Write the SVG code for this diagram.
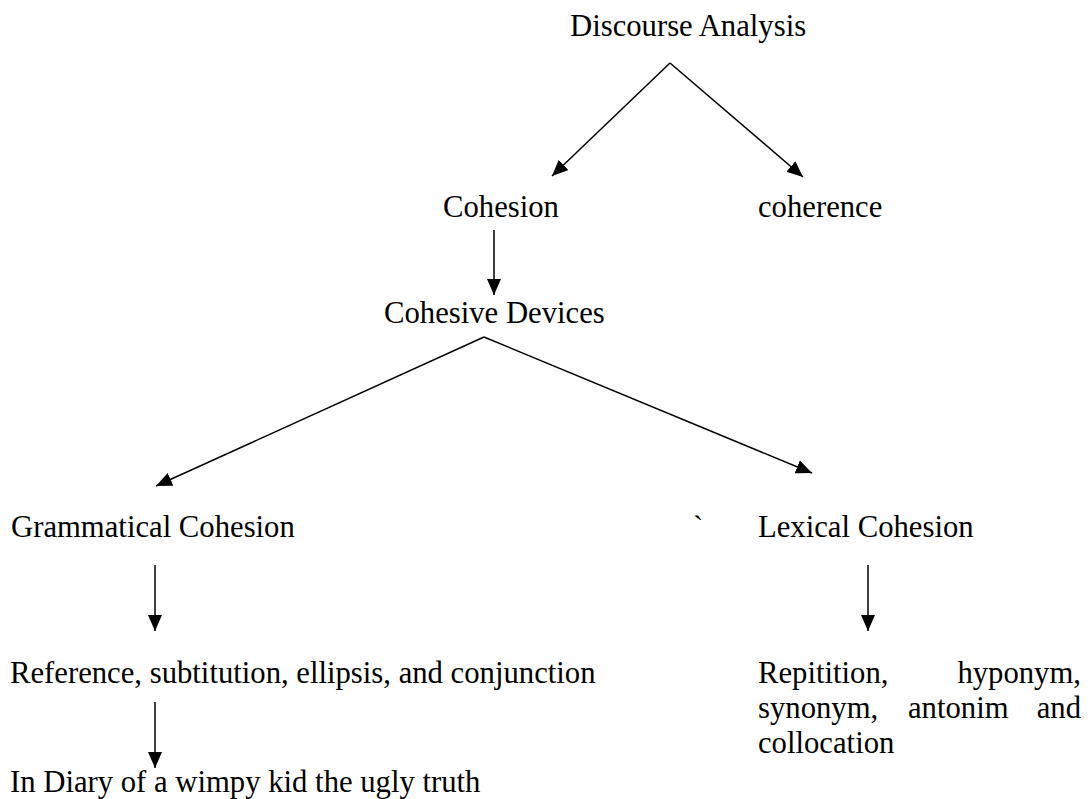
<svg xmlns="http://www.w3.org/2000/svg" width="1091" height="799" viewBox="0 0 1091 799">
<style>
text{font-family:"Liberation Serif","Times New Roman",serif;font-size:30.7px;fill:#000}
.c{stroke:#000;stroke-width:1.5;fill:none}
</style>
<defs>
<marker id="ahb" viewBox="0 0 16 14" refX="16" refY="7" markerWidth="16" markerHeight="14" markerUnits="userSpaceOnUse" orient="auto">
<path d="M0,0 L16,7 L0,14 z" fill="#000"/>
</marker>
</defs>
<rect width="1091" height="799" fill="#fff"/>
<g id="connectors">
<path class="c" d="M670,63 L552,176" marker-end="url(#ahb)"/>
<path class="c" d="M670,63 L803,177" marker-end="url(#ahb)"/>
<path class="c" d="M494,230 L494,295" marker-end="url(#ahb)"/>
<path class="c" d="M484,337 L156,486" marker-end="url(#ahb)"/>
<path class="c" d="M484,337 L812,473" marker-end="url(#ahb)"/>
<path class="c" d="M155,565 L155,631" marker-end="url(#ahb)"/>
<path class="c" d="M868,565 L868,631" marker-end="url(#ahb)"/>
<path class="c" d="M155,702 L155,768" marker-end="url(#ahb)"/>
</g>
<g id="discourse-analysis"><text x="570" y="36">Discourse Analysis</text></g>
<g id="cohesion"><text x="443" y="217">Cohesion</text></g>
<g id="coherence"><text x="758" y="217">coherence</text></g>
<g id="cohesive-devices"><text x="384" y="323">Cohesive Devices</text></g>
<g id="grammatical-cohesion"><text x="11" y="537">Grammatical Cohesion</text></g>
<g id="backtick"><text x="693" y="537">`</text></g>
<g id="lexical-cohesion"><text x="758" y="537">Lexical Cohesion</text></g>
<g id="grammatical-items"><text x="10" y="683">Reference, subtitution, ellipsis, and conjunction</text></g>
<g id="lexical-items">
<text x="758" y="683">Repitition,</text>
<text x="1081" y="683" text-anchor="end">hyponym,</text>
<text x="758" y="718">synonym,</text>
<text x="908" y="718">antonim</text>
<text x="1081" y="718" text-anchor="end">and</text>
<text x="758" y="753">collocation</text>
</g>
<g id="example"><text x="10" y="792">In Diary of a wimpy kid the ugly truth</text></g>
</svg>
